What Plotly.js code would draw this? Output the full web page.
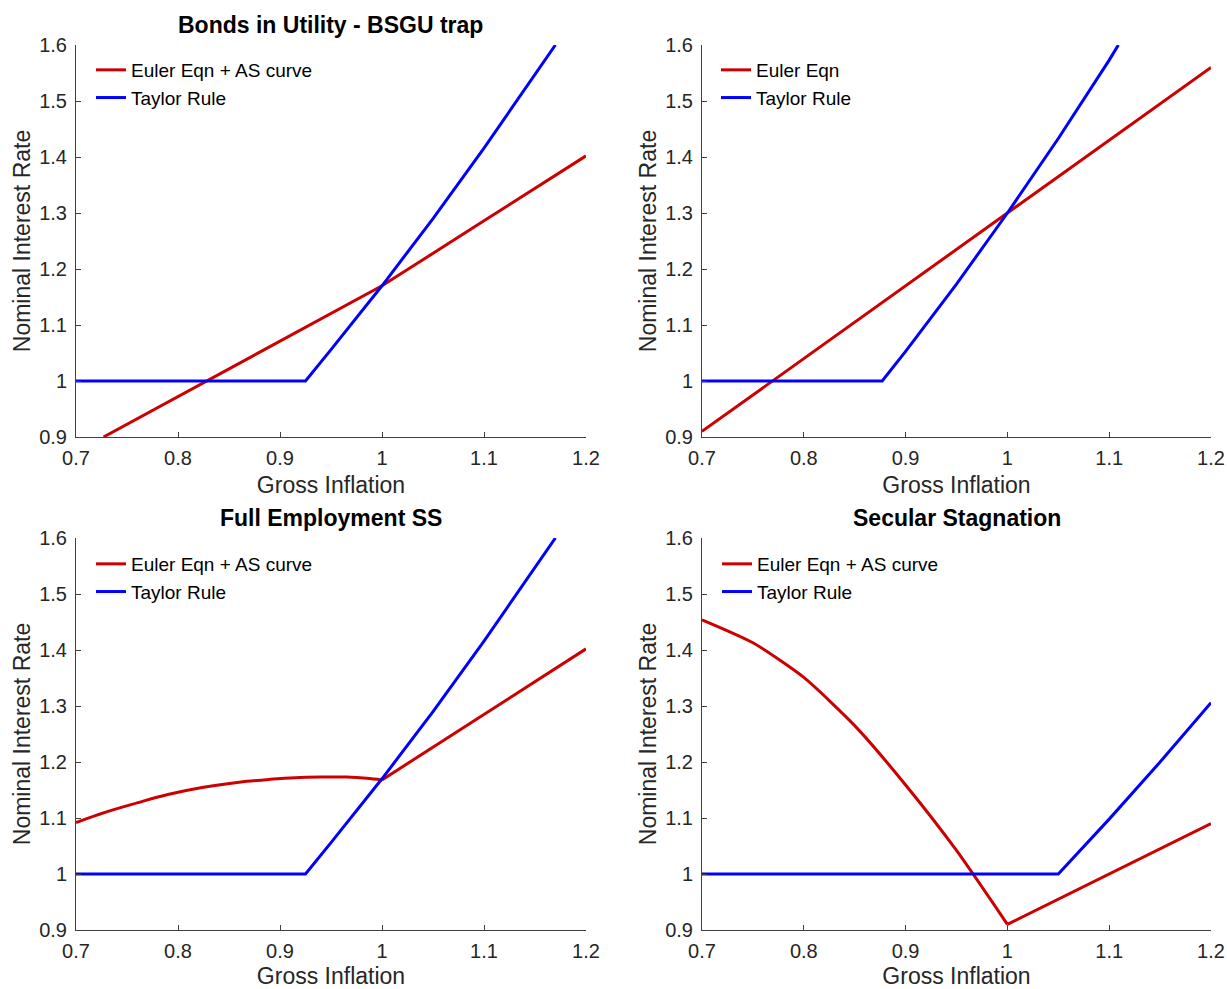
<!DOCTYPE html>
<html>
<head>
<meta charset="utf-8">
<script src="https://cdn.plot.ly/plotly-3.0.1.min.js"></script>
<style>html,body{margin:0;padding:0;background:#fff;}#chart{width:1227px;height:989px;}</style>
</head>
<body>
<div id="chart"></div>
<script>
// ---- data ----
const panelTitles = ["Bonds in Utility - BSGU trap", "", "Full Employment SS", "Secular Stagnation"];
const xTitle = "Gross Inflation";
const yTitle = "Nominal Interest Rate";
const xTickVals = [0.7, 0.8, 0.9, 1.0, 1.1, 1.2];
const xTickText = ["0.7", "0.8", "0.9", "1", "1.1", "1.2"];
const yTickVals = [0.9, 1.0, 1.1, 1.2, 1.3, 1.4, 1.5, 1.6];
const yTickText = ["0.9", "1", "1.1", "1.2", "1.3", "1.4", "1.5", "1.6"];

// Panel 1: Bonds in Utility - BSGU trap
const p1EulerX = [0.727, 0.825, 0.925, 1.0, 1.1, 1.2];
const p1EulerY = [0.9, 0.997, 1.097, 1.17, 1.286, 1.402];
const p1TaylorX = [0.7, 0.925, 0.95, 1.0, 1.05, 1.1, 1.17];
const p1TaylorY = [1.0, 1.0, 1.056, 1.17, 1.29, 1.416, 1.6];

// Panel 2: (no title)
const p2EulerX = [0.7, 1.0, 1.2];
const p2EulerY = [0.91, 1.3, 1.56];
const p2TaylorX = [0.7, 0.877, 0.9, 0.95, 1.0, 1.05, 1.1, 1.109];
const p2TaylorY = [1.0, 1.0, 1.053, 1.173, 1.3, 1.433, 1.573, 1.6];

// Panel 3: Full Employment SS  (curved branch, then straight branch)
const p3EulerCurveX = [0.7, 0.73, 0.76, 0.79, 0.825, 0.86, 0.89, 0.915, 0.94, 0.965, 0.985, 1.0];
const p3EulerCurveY = [1.092, 1.111, 1.127, 1.142, 1.155, 1.164, 1.169, 1.172, 1.173, 1.173, 1.171, 1.168];
const p3EulerLineX = [1.0, 1.1, 1.2];
const p3EulerLineY = [1.168, 1.285, 1.402];
const p3TaylorX = [0.7, 0.925, 0.95, 1.0, 1.05, 1.1, 1.17];
const p3TaylorY = [1.0, 1.0, 1.056, 1.17, 1.29, 1.416, 1.6];

// Panel 4: Secular Stagnation  (curved branch, then straight branch)
const p4EulerCurveX = [0.7, 0.75, 0.8, 0.85, 0.9, 0.95, 1.0];
const p4EulerCurveY = [1.454, 1.413, 1.351, 1.265, 1.159, 1.042, 0.91];
const p4EulerLineX = [1.0, 1.1, 1.2];
const p4EulerLineY = [0.91, 1.0, 1.09];
const p4TaylorX = [0.7, 1.05, 1.1, 1.15, 1.2];
const p4TaylorY = [1.0, 1.0, 1.098, 1.2, 1.306];

const legendNames = [["Euler Eqn + AS curve", "Taylor Rule"], ["Euler Eqn", "Taylor Rule"], ["Euler Eqn + AS curve", "Taylor Rule"], ["Euler Eqn + AS curve", "Taylor Rule"]];

// ---- styling ----
const RED = "#cc0000", BLUE = "#0000ff";
const FONT = "Liberation Sans, Arial, Helvetica, sans-serif";
const INK = "#262626";
const AXIS = "#404040";

const panels = [
  {curve: [p1EulerX, p1EulerY], line: null, tx: p1TaylorX, ty: p1TaylorY, smooth: 0},
  {curve: [p2EulerX, p2EulerY], line: null, tx: p2TaylorX, ty: p2TaylorY, smooth: 0},
  {curve: [p3EulerCurveX, p3EulerCurveY], line: [p3EulerLineX, p3EulerLineY], tx: p3TaylorX, ty: p3TaylorY, smooth: 1},
  {curve: [p4EulerCurveX, p4EulerCurveY], line: [p4EulerLineX, p4EulerLineY], tx: p4TaylorX, ty: p4TaylorY, smooth: 0.6}
];

const W = 1227, H = 989;
const colX = [[76 / W, 586 / W], [702 / W, 1211 / W]];
const rowY = [[1 - 437 / H, 1 - 45 / H], [1 - 930 / H, 1 - 538 / H]];
const legendPos = [[91, 51], [716, 51], [91, 545], [717, 545]];

const traces = [];
const layout = {
  width: W, height: H,
  margin: {l: 0, r: 0, t: 0, b: 0},
  paper_bgcolor: "#ffffff", plot_bgcolor: "#ffffff",
  font: {family: FONT, color: INK},
  annotations: [],
  showlegend: true
};

panels.forEach((p, i) => {
  const n = i + 1;
  const xa = n === 1 ? "x" : "x" + n;
  const ya = n === 1 ? "y" : "y" + n;
  const lg = n === 1 ? "legend" : "legend" + n;
  traces.push({x: p.curve[0], y: p.curve[1], xaxis: xa, yaxis: ya, type: "scatter", mode: "lines",
    name: legendNames[i][0], legend: lg, legendrank: 1,
    line: p.smooth ? {color: RED, width: 3, shape: "spline", smoothing: p.smooth} : {color: RED, width: 3}});
  if (p.line) {
    traces.push({x: p.line[0], y: p.line[1], xaxis: xa, yaxis: ya, type: "scatter", mode: "lines",
      name: legendNames[i][0], legend: lg, showlegend: false, line: {color: RED, width: 3}});
  }
  traces.push({x: p.tx, y: p.ty, xaxis: xa, yaxis: ya, type: "scatter", mode: "lines",
    name: legendNames[i][1], legend: lg, legendrank: 2, line: {color: BLUE, width: 3}});
  const col = i % 2, row = Math.floor(i / 2);
  const axBase = {showgrid: false, zeroline: false, showline: true, linecolor: AXIS, linewidth: 1,
    ticks: "inside", ticklen: 5, tickcolor: AXIS, tickwidth: 1, mirror: false,
    tickfont: {family: FONT, size: 20, color: INK}, fixedrange: true};
  layout["xaxis" + (n === 1 ? "" : n)] = Object.assign({}, axBase, {
    domain: colX[col], anchor: ya, range: [0.7, 1.2],
    tickmode: "array", tickvals: xTickVals, ticktext: xTickText, ticklabelstandoff: 3,
    title: {text: xTitle, font: {family: FONT, size: 23, color: INK}, standoff: 8}
  });
  layout["yaxis" + (n === 1 ? "" : n)] = Object.assign({}, axBase, {
    domain: rowY[row], anchor: xa, range: [0.9, 1.6],
    tickmode: "array", tickvals: yTickVals, ticktext: yTickText, ticklabelstandoff: 4,
    title: {text: yTitle, font: {family: FONT, size: 23, color: INK}, standoff: 2}
  });
  layout[lg] = {
    x: legendPos[i][0] / W, y: 1 - legendPos[i][1] / H, xanchor: "left", yanchor: "top",
    bgcolor: "rgba(255,255,255,0)", borderwidth: 0,
    font: {family: FONT, size: 19, color: "#000"}, tracegroupgap: 0, itemwidth: 30
  };
  if (panelTitles[i]) {
    layout.annotations.push({
      text: "<b>" + panelTitles[i] + "</b>", xref: "paper", yref: "paper",
      x: (colX[col][0] + colX[col][1]) / 2, y: rowY[row][1], yshift: 5,
      xanchor: "center", yanchor: "bottom", showarrow: false,
      font: {family: FONT, size: 23, color: "#000"}
    });
  }
});

Plotly.newPlot("chart", traces, layout, {displayModeBar: false, staticPlot: true});
</script>
</body>
</html>
